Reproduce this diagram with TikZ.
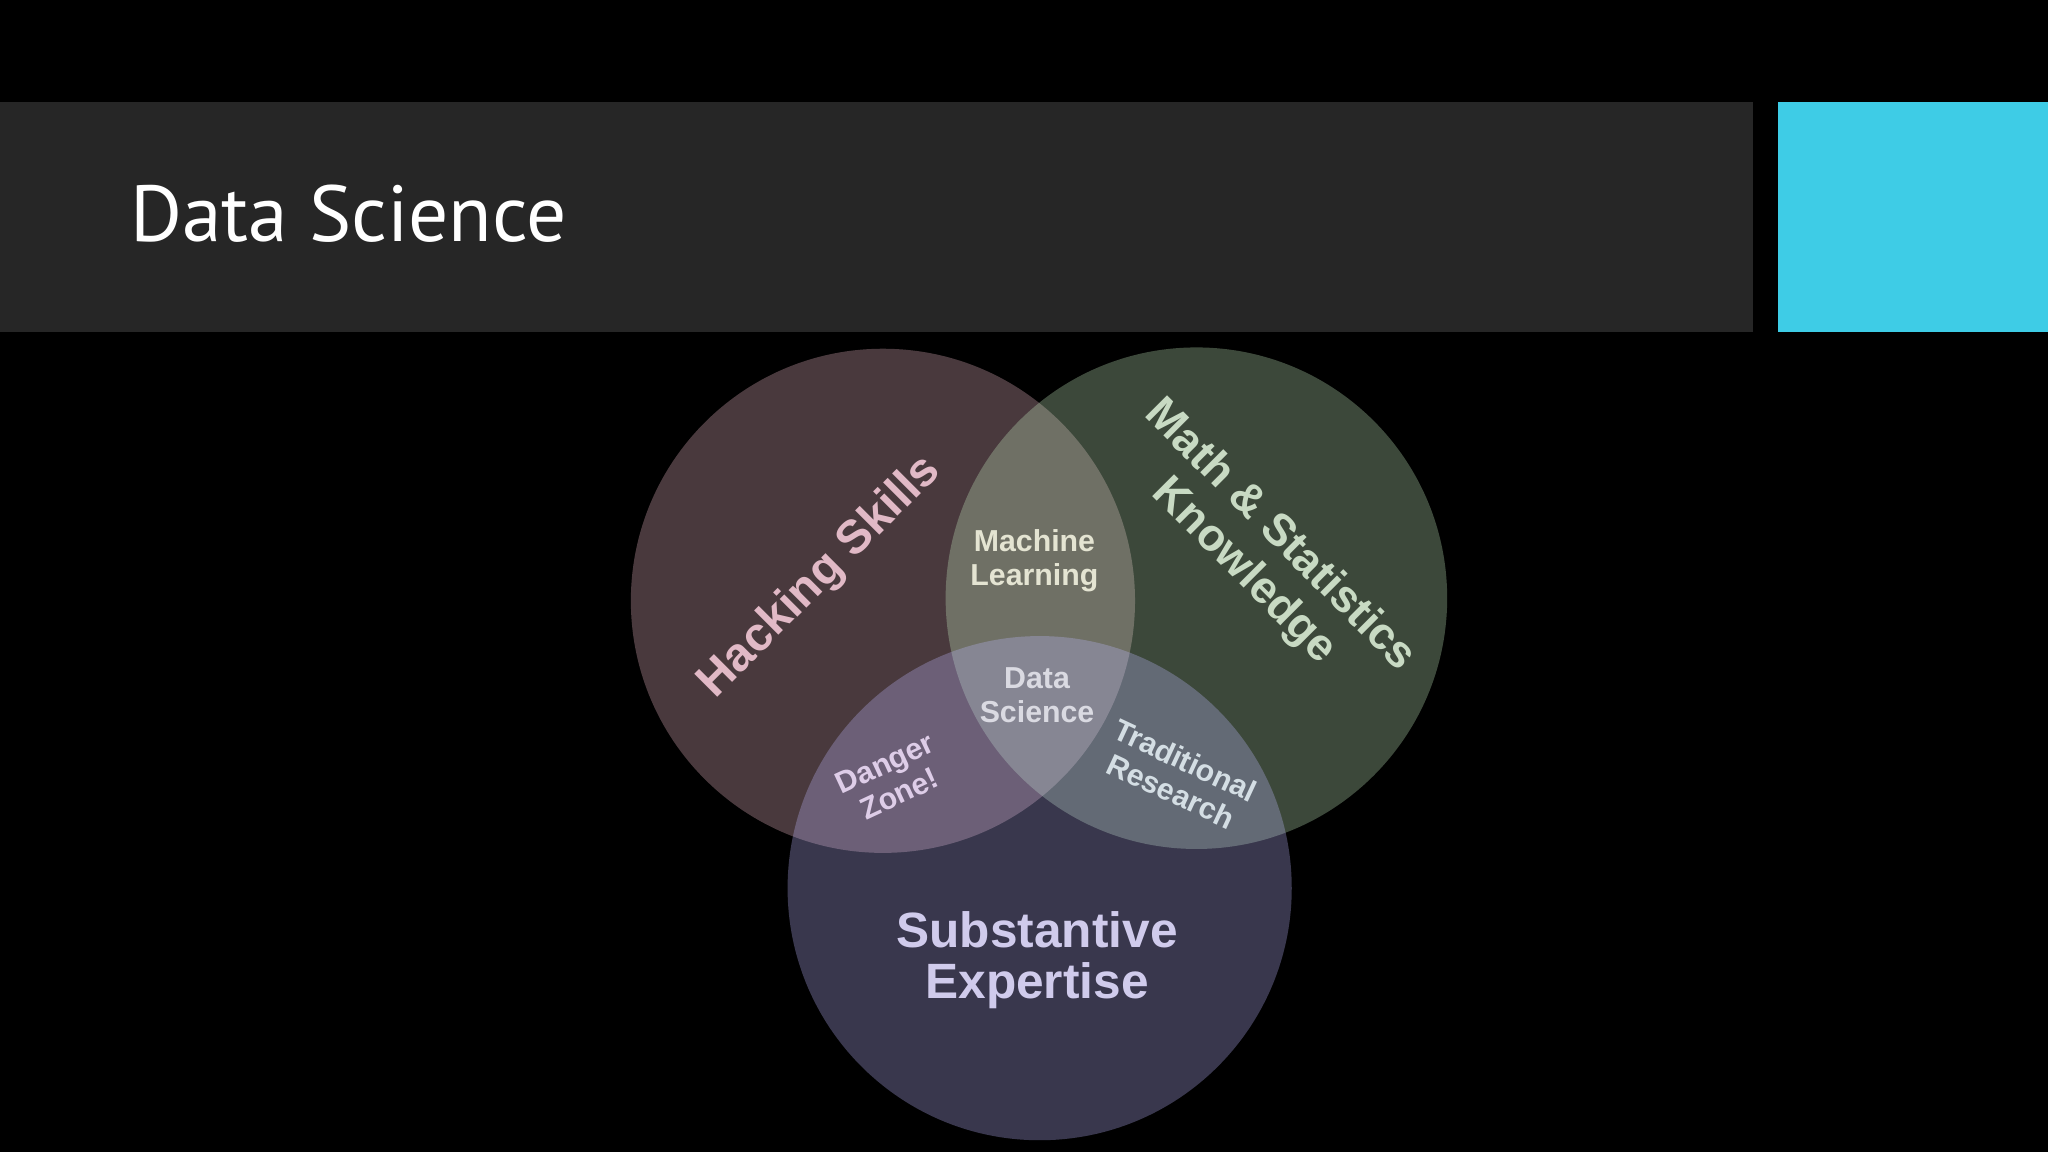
\documentclass[tikz,border=0pt]{standalone}
\usepackage{fontspec}
\setmainfont{Liberation Sans}
\newfontfamily\titlefont{PT Sans}
\begin{document}
\begin{tikzpicture}[x=0.01cm,y=-0.01cm,
  lbl/.style={font=\bfseries, align=center, inner sep=0pt}]
\fill[black] (0,0) rectangle (1568,882);
\useasboundingbox (0,0) rectangle (1568,882);
\fill[fill={rgb,255:red,38;green,38;blue,38}] (0,78) rectangle (1342,254);
\fill[fill={rgb,255:red,62;green,204;blue,230}] (1361,78) rectangle (1568,254);
\node[anchor=base west, text=white, inner sep=0pt, font=\titlefont\fontsize{17.3pt}{19pt}\selectfont] (title) at (99,185) {Data Science};
\fill[fill={rgb,255:red,245;green,190;blue,205}, fill opacity=0.3] (676,460) circle (193);
\fill[fill={rgb,255:red,200;green,240;blue,195}, fill opacity=0.3] (916,458) circle (192);
\fill[fill={rgb,255:red,190;green,185;blue,255}, fill opacity=0.3] (796,680) circle (193);
\node[lbl, rotate=45, text={rgb,255:red,225;green,185;blue,198}, font=\bfseries\fontsize{10.3pt}{12pt}\selectfont] (hack) at (628,442) {Hacking Skills};
\node[lbl, rotate=-45, text={rgb,255:red,200;green,218;blue,195}, font=\bfseries\fontsize{9.8pt}{11pt}\selectfont] (math) at (966,424) {Math \& Statistics\\Knowledge};
\node[lbl, text={rgb,255:red,228;green,228;blue,210}, font=\bfseries\fontsize{6.6pt}{7.4pt}\selectfont] (ml) at (792,429) {Machine\\Learning};
\node[lbl, text={rgb,255:red,218;green,218;blue,226}, font=\bfseries\fontsize{6.6pt}{7.4pt}\selectfont] (ds) at (794,532) {Data\\Science};
\node[lbl, rotate=25, text={rgb,255:red,222;green,205;blue,232}, font=\bfseries\fontsize{6.6pt}{7.4pt}\selectfont] (dz) at (683,596) {Danger\\Zone!};
\node[lbl, rotate=-25, text={rgb,255:red,212;green,222;blue,228}, font=\bfseries\fontsize{6.6pt}{7.4pt}\selectfont] (tr) at (902,594) {Traditional\\Research};
\node[lbl, text={rgb,255:red,208;green,203;blue,236}, font=\bfseries\fontsize{10.8pt}{11pt}\selectfont] (se) at (794,735) {Substantive\\Expertise};
\end{tikzpicture}
\end{document}
